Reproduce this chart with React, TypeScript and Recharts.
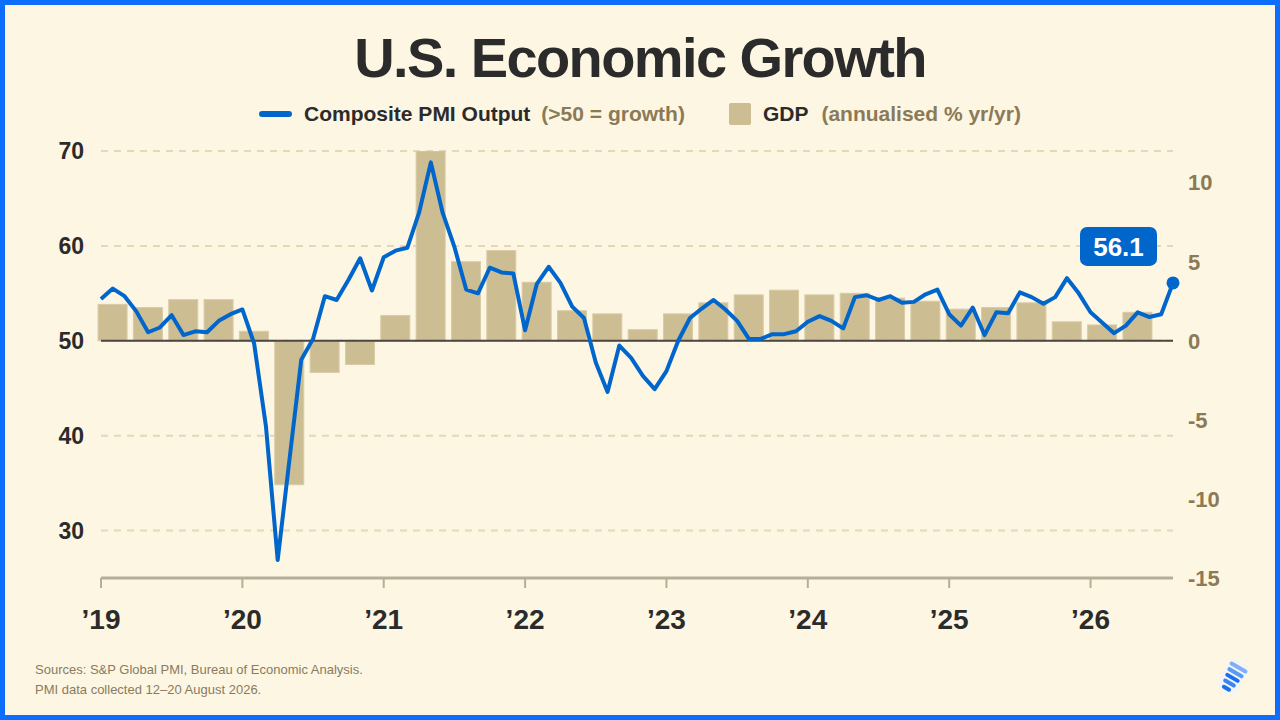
import React from "react";
import {
  ComposedChart, Bar, Line, XAxis, YAxis, CartesianGrid, ReferenceLine,
} from "recharts";

// monthly composite PMI, Jan 2019 .. Aug 2026
const PMI = [
  54.4, 55.5, 54.7, 53.1, 50.9, 51.4, 52.7, 50.6, 51.0, 50.9, 52.1, 52.8,
  53.3, 49.7, 41.0, 26.9, 37.5, 48.0, 50.2, 54.7, 54.3, 56.4, 58.7, 55.3,
  58.8, 59.5, 59.8, 63.5, 68.8, 63.5, 59.9, 55.4, 55.0, 57.7, 57.2, 57.1,
  51.1, 56.0, 57.8, 56.1, 53.6, 52.4, 47.7, 44.6, 49.5, 48.2, 46.3, 44.9,
  46.8, 50.0, 52.4, 53.4, 54.3, 53.3, 52.1, 50.2, 50.2, 50.7, 50.7, 51.0,
  52.0, 52.6, 52.1, 51.3, 54.6, 54.8, 54.3, 54.7, 54.0, 54.1, 54.9, 55.4,
  52.8, 51.6, 53.5, 50.6, 53.0, 52.9, 55.1, 54.6, 53.9, 54.6, 56.6, 55.0,
  53.0, 51.9, 50.8, 51.6, 53.0, 52.5, 52.8, 56.1,
];

// quarterly GDP, Q1 2019 .. Q2 2026
const GDP = [
  2.3, 2.1, 2.6, 2.6,
  0.6, -9.1, -2.0, -1.5,
  1.6, 12.0, 5.0, 5.7,
  3.7, 1.9, 1.7, 0.7,
  1.7, 2.4, 2.9, 3.2,
  2.9, 3.0, 2.7, 2.5,
  2.0, 2.1, 2.4, 1.2,
  1.0, 1.8,
];

const YEAR_LABELS = ["’19", "’20", "’21", "’22", "’23", "’24", "’25", "’26"];
const YEAR_TICKS = YEAR_LABELS.map((_, k) => k * 12);
const PMI_TICKS = [30, 40, 50, 60, 70];
const GDP_TICKS = [-15, -10, -5, 0, 5, 10];

const data = PMI.map((pmi, i) => ({
  i,
  pmi,
  gdp: i % 3 === 1 ? GDP[(i - 1) / 3] : undefined,
}));

const FONT = '"Liberation Sans", Arial, sans-serif';
const BG = "#fdf6e3";
const BLUE = "#0066cc";
const BAR = "#cdbd93";
const DARK = "#2b2b2b";
const BROWN = "#8b7a55";

function GdpBar(props: any) {
  const { x, y, width, height, payload } = props;
  if (!payload || payload.gdp == null) return <g />;
  const cx = x + width / 2;
  const top = Math.min(y, y + height);
  return (
    <rect x={cx - 14.5} y={top} width={29} height={Math.abs(height)}
      fill={BAR} stroke="#d8cba6" strokeWidth={1} />
  );
}

function LastDot(props: any) {
  const { cx, cy, index } = props;
  if (index !== PMI.length - 1) return <g key={index} />;
  return <circle key={index} cx={cx} cy={cy} r={6.5} fill={BLUE} />;
}

function LastLabel(props: any) {
  const { x, y, value, index } = props;
  if (index !== PMI.length - 1) return null;
  return (
    <g>
      <rect x={x - 93} y={y - 56} width={77} height={39} rx={7} fill={BLUE} />
      <text x={x - 54.5} y={y - 27} textAnchor="middle" fill="#fff"
        fontSize={26} fontWeight={700} fontFamily={FONT}>
        {Number(value).toFixed(1)}
      </text>
    </g>
  );
}

export default function App() {
  return (
    <div style={{
      position: "absolute", left: 0, top: 0, width: 1280, height: 720,
      background: BG, fontFamily: FONT, overflow: "hidden",
    }}>
      <div style={{
        position: "absolute", left: 0, top: 30, width: 1280, textAlign: "center",
        fontSize: 56, lineHeight: "56px", fontWeight: 700, color: DARK, letterSpacing: -1.6,
      }}>
        U.S. Economic Growth
      </div>

      <div style={{
        position: "absolute", left: 0, top: 103, width: 1280, height: 22,
        display: "flex", justifyContent: "center", alignItems: "center",
        fontSize: 21, fontWeight: 700, lineHeight: "22px", whiteSpace: "nowrap",
      }}>
        <span style={{ width: 33, height: 6, borderRadius: 3, background: BLUE, marginRight: 12 }} />
        <span style={{ color: DARK, marginRight: 11 }}>Composite PMI Output</span>
        <span style={{ color: BROWN, marginRight: 44 }}>(&gt;50 = growth)</span>
        <span style={{ width: 22, height: 22, borderRadius: 2, background: BAR, marginRight: 12 }} />
        <span style={{ color: DARK, marginRight: 13 }}>GDP</span>
        <span style={{ color: BROWN }}>(annualised % yr/yr)</span>
      </div>

      <div style={{ position: "absolute", left: 0, top: 0 }}>
        <ComposedChart width={1280} height={720} data={data}
          margin={{ top: 151, right: 47, bottom: 82, left: 41 }}>
          <CartesianGrid yAxisId="pmi" vertical={false} stroke="#e6d7b6"
            strokeWidth={2} strokeDasharray="7 6" />
          <XAxis dataKey="i" type="number" domain={[0, PMI.length - 1]}
            ticks={YEAR_TICKS} interval={0} height={60}
            tickFormatter={(v: number) => YEAR_LABELS[Math.round(v / 12)]}
            axisLine={{ stroke: "#b7ae98", strokeWidth: 3 }}
            tickLine={{ stroke: "#b7ae98", strokeWidth: 2 }}
            tickSize={10} tickMargin={21}
            tick={{ fontSize: 28, fontWeight: 700, fill: DARK, fontFamily: FONT }} />
          <YAxis yAxisId="pmi" orientation="left" domain={[25, 70]}
            ticks={PMI_TICKS} width={60} axisLine={false} tickLine={false}
            tickSize={0} tickMargin={17} allowDataOverflow
            tick={{ fontSize: 23, fontWeight: 700, fill: DARK, fontFamily: FONT }} />
          <YAxis yAxisId="gdp" orientation="right" domain={[-15, 12]}
            ticks={GDP_TICKS} width={60} axisLine={false} tickLine={false}
            tickSize={0} tickMargin={15} allowDataOverflow
            tick={{ fontSize: 22, fontWeight: 700, fill: BROWN, fontFamily: FONT }} />
          <ReferenceLine yAxisId="gdp" y={0} stroke="#4a4741" strokeWidth={2} />
          <Bar yAxisId="gdp" dataKey="gdp" shape={GdpBar} isAnimationActive={false} />
          <Line yAxisId="pmi" dataKey="pmi" type="linear" stroke={BLUE} strokeWidth={4}
            strokeLinejoin="round" dot={LastDot} activeDot={false}
            label={LastLabel} isAnimationActive={false} />
        </ComposedChart>
      </div>

      <div style={{
        position: "absolute", left: 35, top: 660, fontSize: 13, lineHeight: "20px", color: "#8a7b60",
      }}>
        <div>Sources: S&amp;P Global PMI, Bureau of Economic Analysis.</div>
        <div>PMI data collected 12–20 August 2026.</div>
      </div>

      <svg style={{ position: "absolute", left: 1205, top: 652 }} width={50} height={50}>
        <g transform="translate(28,25) rotate(-60)">
          <rect x={-17} y={-11} width={34} height={22} rx={6} fill="#eef3fb" opacity={0.7} />
          <rect x={-15} y={-5} width={4} height={10} rx={2} fill="#1a6ef0" />
          <rect x={-9} y={-7} width={4} height={14} rx={2} fill="#3d86f2" />
          <rect x={-3} y={-8} width={4} height={16} rx={2} fill="#1a6ef0" />
          <rect x={3} y={-9} width={4} height={18} rx={2} fill="#5c9af2" />
          <rect x={9} y={-10} width={4} height={20} rx={2} fill="#7fb0f5" />
        </g>
      </svg>

      <div style={{
        position: "absolute", left: 0, top: 0, width: 1280, height: 720, boxSizing: "border-box",
        border: "5px solid #0d6efd", pointerEvents: "none",
      }} />
    </div>
  );
}
